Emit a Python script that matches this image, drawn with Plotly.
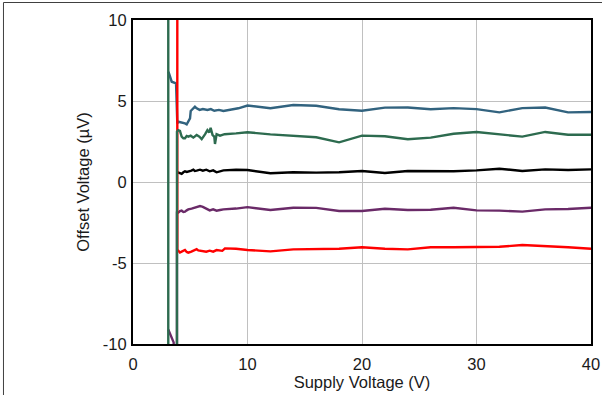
import plotly.graph_objects as go

x_tail = [10, 12, 14, 16, 18, 20, 22, 24, 26, 28, 30, 32, 34, 36, 38, 40]

y_tickvals = [-10, -5, 0, 5, 10]
y_ticktext = ["-10", "-5", "0", "5", "10"]
x_tickvals = [0, 10, 20, 30, 40]
x_ticktext = ["0", "10", "20", "30", "40"]

blue_x = [3.08, 3.14, 3.38, 3.76, 3.87, 3.96, 4.54, 4.69, 4.98, 5.04, 5.41, 5.56, 5.82, 6.1, 6.5, 6.8, 7.1, 7.5, 7.9, 8.4, 9.2] + x_tail
blue_y = [6.8, 6.71, 6.19, 6.09, 3.62, 3.72, 3.62, 3.56, 3.93, 4.38, 4.65, 4.55, 4.45, 4.5, 4.45, 4.5, 4.4, 4.45, 4.38, 4.45, 4.55,
          4.72, 4.55, 4.75, 4.71, 4.49, 4.40, 4.59, 4.6, 4.49, 4.56, 4.5, 4.3, 4.56, 4.6, 4.3, 4.32]

green_x = [3.08, 3.08, 3.84, 3.84, 3.95, 4.1, 4.25, 4.4, 4.54, 4.69, 4.83, 5.04, 5.27, 5.56, 5.8, 6.0, 6.3, 6.5, 6.66, 6.78,
           6.95, 7.1, 7.16, 7.3, 7.6, 8.0, 9.0] + x_tail
green_y = [15, -15, -15, 3.1, 3.2, 3.15, 2.8, 2.7, 2.7, 2.84, 2.8, 2.86, 2.74, 2.9, 2.8, 2.65, 2.95, 3.2, 3.06, 3.35,
           2.9, 2.8, 2.35, 2.95, 2.86, 2.95, 3.0,
           3.07, 2.94, 2.86, 2.76, 2.45, 2.86, 2.82, 2.64, 2.74, 2.98, 3.09, 2.94, 2.8, 3.09, 2.92, 2.92]

black_x = [3.9, 3.96, 4.1, 4.25, 4.4, 4.54, 4.7, 4.98, 5.1, 5.27, 5.4, 5.56, 5.7, 5.85, 6.1, 6.4, 6.7, 7.0, 7.3, 7.6, 7.9, 9.0] + x_tail
black_y = [0.55, 0.58, 0.55, 0.5, 0.6, 0.66, 0.62, 0.66, 0.7, 0.76, 0.68, 0.7, 0.74, 0.76, 0.7, 0.76, 0.66, 0.72, 0.6, 0.66, 0.72, 0.76,
           0.74, 0.54, 0.6, 0.58, 0.6, 0.68, 0.56, 0.68, 0.66, 0.66, 0.72, 0.82, 0.68, 0.78, 0.74, 0.78]

purple_x = [3.08, 3.25, 3.55, 3.7, 3.84, 3.84, 3.96, 4.1, 4.25, 4.4, 4.54, 4.69, 4.83, 5.12, 5.3, 5.56, 5.7, 5.85, 6.1, 6.4,
            6.7, 7.0, 7.3, 7.6, 7.9, 9.0] + x_tail
purple_y = [-9.1, -9.35, -9.9, -15, -15, -1.89, -1.89, -1.8, -1.77, -1.85, -1.83, -1.75, -1.69, -1.64, -1.6, -1.58, -1.55, -1.48, -1.54, -1.64,
            -1.75, -1.69, -1.77, -1.73, -1.69, -1.64,
            -1.55, -1.73, -1.59, -1.6, -1.79, -1.79, -1.65, -1.73, -1.71, -1.59, -1.75, -1.77, -1.83, -1.69, -1.67, -1.59]

red_x = [3.87, 3.87, 3.96, 4.1, 4.25, 4.4, 4.54, 4.69, 4.83, 5.1, 5.3, 5.56, 5.7, 5.85, 6.1, 6.4, 6.7, 7.0, 7.3, 7.6, 7.8, 8.03, 9.0] + x_tail
red_y = [15, -4.24, -4.24, -4.35, -4.3, -4.22, -4.2, -4.32, -4.36, -4.3, -4.25, -4.15, -4.22, -4.24, -4.3, -4.3, -4.24, -4.3, -4.2, -4.24, -4.25, -4.1, -4.12,
         -4.2, -4.28, -4.16, -4.16, -4.12, -4.03, -4.12, -4.16, -4.03, -4.03, -4.03, -4.0, -3.89, -3.95, -4.03, -4.12]

series = [
    (blue_x, blue_y, "#32637F"),
    (black_x, black_y, "#000000"),
    (purple_x, purple_y, "#6A2A68"),
    (red_x, red_y, "#FF0000"),
    (green_x, green_y, "#2D6B4F"),
]

fig = go.Figure()
for xs, ys, c in series:
    fig.add_trace(go.Scatter(x=xs, y=ys, mode="lines", line=dict(color=c, width=2.4), showlegend=False))

font = dict(family="Liberation Sans, Arial, sans-serif", size=16.5, color="#1a1a1a")

fig.update_layout(
    width=602, height=395,
    margin=dict(l=133, r=11, t=20, b=51, autoexpand=False),
    paper_bgcolor="white", plot_bgcolor="white",
    font=font,
    showlegend=False,
    xaxis=dict(range=[0, 40], tickmode="array", tickvals=x_tickvals, ticktext=x_ticktext,
               showgrid=True, gridcolor="#C0C0C0", gridwidth=1,
               zeroline=False, showline=True, linecolor="black", linewidth=2, mirror=True, automargin=False,
               ticks="outside", ticklen=4, tickcolor="rgba(0,0,0,0)",
               title=dict(text="Supply Voltage (V)", standoff=2, font=font), tickfont=font),
    yaxis=dict(range=[-10, 10], tickmode="array", tickvals=y_tickvals, ticktext=y_ticktext,
               showgrid=True, gridcolor="#C0C0C0", gridwidth=1,
               zeroline=False, showline=True, linecolor="black", linewidth=2, mirror=True, automargin=False,
               ticks="outside", ticklen=1, tickcolor="rgba(0,0,0,0)",
               title=dict(text="Offset Voltage (µV)", standoff=9, font=font), tickfont=font),
    shapes=[
        dict(type="line", xref="paper", yref="paper", x0=-0.2828, x1=1.2, y0=1.054, y1=1.054,
             line=dict(color="#404040", width=1)),
        dict(type="line", xref="paper", yref="paper", x0=-0.2828, x1=-0.2828, y0=1.054, y1=-0.3,
             line=dict(color="#404040", width=1)),
    ],
)

fig.write_html("out.html")
